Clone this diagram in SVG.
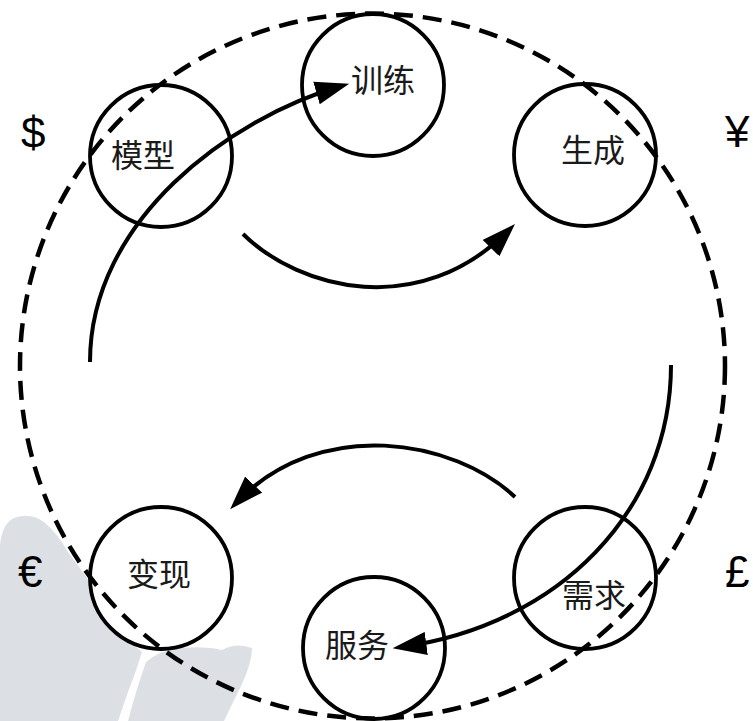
<svg xmlns="http://www.w3.org/2000/svg" width="753" height="721" viewBox="0 0 753 721">
<style>
.node circle{fill:#fff;stroke:#000;stroke-width:3.8}
.lbl{font-family:"Noto Sans CJK SC","Noto Sans",sans-serif;font-size:32px;fill:#1a1a1a;text-anchor:middle}
.cur{font-family:"Liberation Sans","DejaVu Sans",sans-serif;font-size:44px;fill:#000}
.conn path{fill:none;stroke:#000;stroke-width:4}
</style>
<defs>
<marker id="ah" markerUnits="userSpaceOnUse" markerWidth="34" markerHeight="24" viewBox="0 0 32 22" refX="24" refY="11" orient="auto">
<path d="M0,0 L32,11 L0,22 Z" fill="#000"/>
</marker>
</defs>
<rect width="753" height="721" fill="#fff"/>
<g id="background" fill="#dcdfe4">
<path d="M0 545 Q2 524 14 518 Q30 512 44 522 Q58 534 68 552 Q80 568 92 585 L112 618 Q126 640 142 652 Q136 672 128 692 L118 721 L0 721 Z"/>
<path d="M128 721 Q136 690 146 662 Q160 650 180 648 Q205 646 222 650 Q236 642 252 648 Q252 662 242 684 Q234 700 224 721 Z"/>
</g>
<g id="node-train" class="node"><circle cx="373" cy="85" r="71"/><text class="lbl" x="383" y="92">训练</text></g>
<g id="node-model" class="node"><circle cx="161" cy="156" r="71"/><text class="lbl" x="143" y="167">模型</text></g>
<g id="node-generate" class="node"><circle cx="585" cy="155" r="71"/><text class="lbl" x="593" y="162">生成</text></g>
<g id="node-demand" class="node"><circle cx="585" cy="578" r="71"/><text class="lbl" x="594" y="607">需求</text></g>
<g id="node-monetize" class="node"><circle cx="161" cy="578" r="71"/><text class="lbl" x="159" y="586">变现</text></g>
<g id="node-service" class="node"><circle cx="374" cy="648" r="71"/><text class="lbl" x="357" y="657">服务</text></g>
<g id="ring">
<circle cx="372.5" cy="366" r="352.5" fill="none" stroke="#000" stroke-width="4.5" stroke-dasharray="19 10"/>
</g>
<g id="currencies">
<text class="cur" x="21" y="148">$</text>
<text class="cur" x="725" y="147">¥</text>
<text class="cur" x="18" y="587">€</text>
<text class="cur" x="725" y="587">£</text>
</g>
<g id="connectors" class="conn">
<path d="M90 362 C90 220 230 118 341 86" marker-end="url(#ah)"/>
<path d="M243 234 C300 290 420 320 509 230" marker-end="url(#ah)"/>
<path d="M671 365 C671 510 560 625 401 647" marker-end="url(#ah)"/>
<path d="M515 497 C455 440 320 415 236 503" marker-end="url(#ah)"/>
</g>
</svg>
